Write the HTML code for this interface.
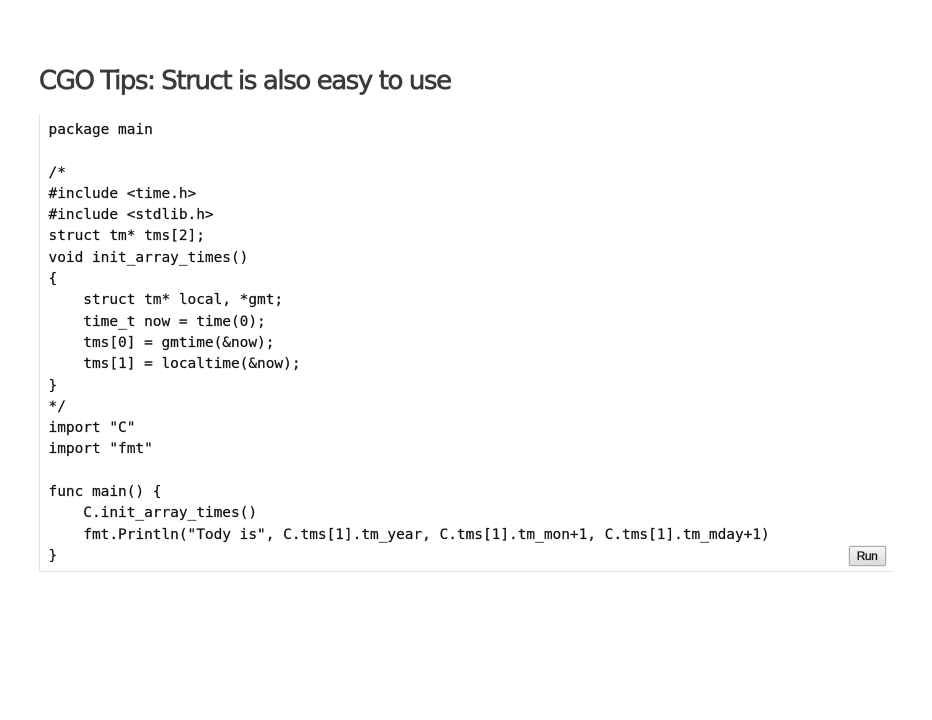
<!DOCTYPE html>
<html>
<head>
<meta charset="utf-8">
<style>
html,body{margin:0;padding:0;background:#fff;width:932px;height:720px;overflow:hidden}
body{position:relative;filter:blur(0.35px)}
h1{position:absolute;left:39px;top:64px;margin:0;font:normal 26px/34px "DejaVu Sans",sans-serif;color:#3a3a3a;letter-spacing:-1.41px;white-space:nowrap;-webkit-text-stroke:0.65px #3a3a3a}
#box{position:absolute;left:39px;top:114px;width:854px;height:458px;border-left:1px solid #e2e2e2;border-bottom:1px solid #e2e2e2;box-sizing:border-box}
pre{position:absolute;left:48.5px;top:120px;margin:0;font:14.5px/21.3px "DejaVu Sans Mono","Liberation Mono",monospace;color:#111;letter-spacing:-0.04px;-webkit-text-stroke:0.2px #111}
#run{position:absolute;left:849px;top:546px;width:37px;height:20px;box-sizing:border-box;border:1px solid #aaa;border-radius:2px;background:linear-gradient(#f6f6f6,#dcdcdc);font:12px/18px "Liberation Sans",sans-serif;color:#111;text-align:center;text-indent:-1px;box-shadow:0 0 1px #999;letter-spacing:-0.5px;-webkit-text-stroke:0.3px #111}
</style>
</head>
<body>
<h1>CGO Tips: Struct is also easy to use</h1>
<div id="box"></div>
<pre>package main

/*
#include &lt;time.h&gt;
#include &lt;stdlib.h&gt;
struct tm* tms[2];
void init_array_times()
{
    struct tm* local, *gmt;
    time_t now = time(0);
    tms[0] = gmtime(&amp;now);
    tms[1] = localtime(&amp;now);
}
*/
import "C"
import "fmt"

func main() {
    C.init_array_times()
    fmt.Println("Tody is", C.tms[1].tm_year, C.tms[1].tm_mon+1, C.tms[1].tm_mday+1)
}</pre>
<div id="run">Run</div>
</body>
</html>
